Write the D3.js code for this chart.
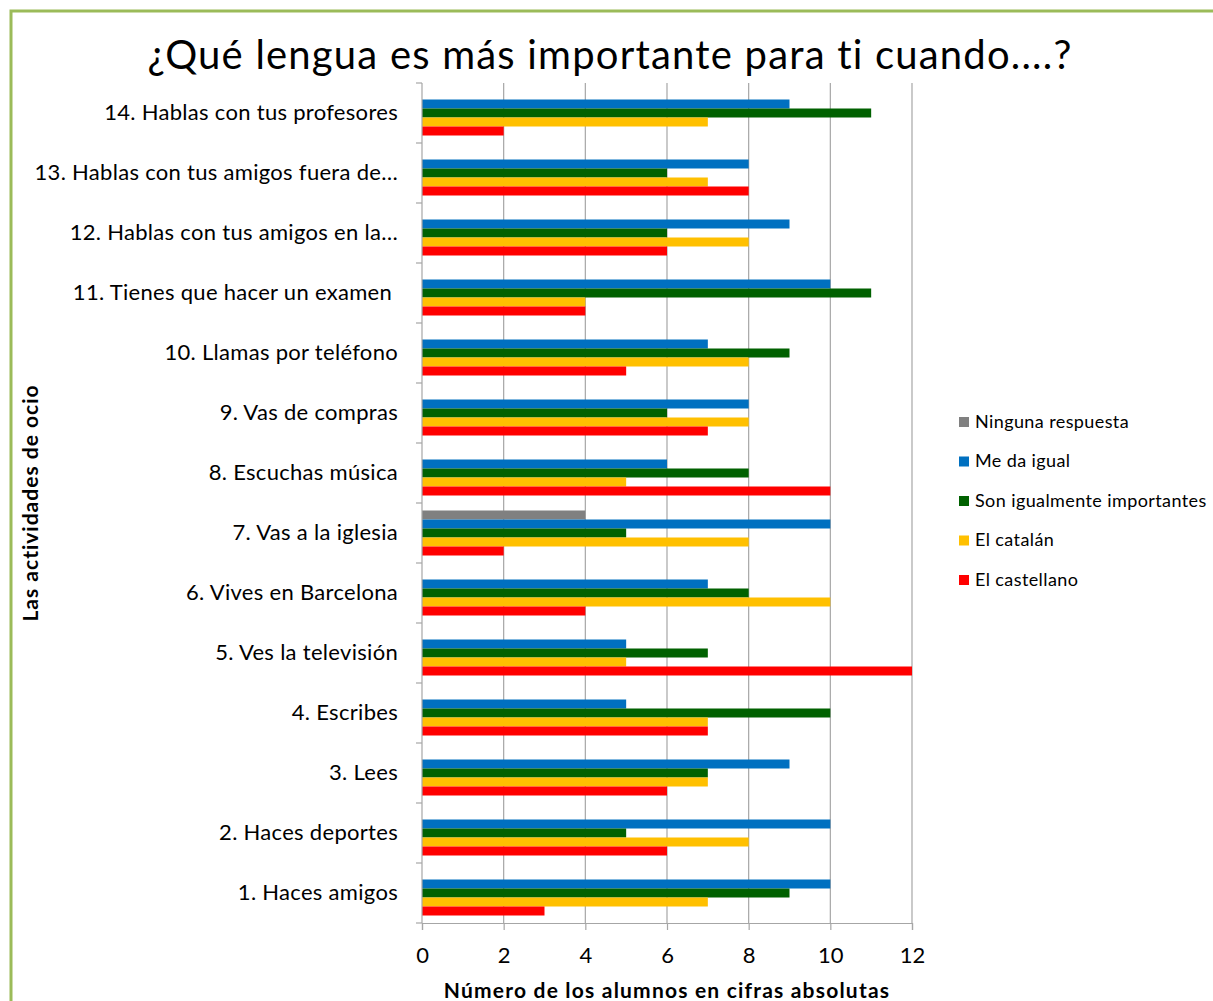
<!DOCTYPE html>
<html>
<head>
<meta charset="utf-8">
<script src="https://cdn.jsdelivr.net/npm/d3@7"></script>
<style>
  body { margin: 0; background: #fff; }
  svg text { font-family: Lato, "Open Sans", sans-serif; fill: #000; }
</style>
</head>
<body>
<div id="chart"></div>
<script>
"use strict";

// categories, top to bottom
var categories = [
  "14. Hablas con tus profesores",
  "13. Hablas con tus amigos fuera de\u2026",
  "12. Hablas con tus amigos en la\u2026",
  "11. Tienes que hacer un examen\u00a0",
  "10. Llamas por teléfono",
  "9. Vas de compras",
  "8. Escuchas música",
  "7. Vas a la iglesia",
  "6. Vives en Barcelona",
  "5. Ves la televisión",
  "4. Escribes",
  "3. Lees",
  "2. Haces deportes",
  "1. Haces amigos"
];

var seriesNames = ["Ninguna respuesta", "Me da igual", "Son igualmente importantes", "El catalán", "El castellano"];
var seriesColors = ["#808080", "#0070C0", "#006100", "#FFC000", "#FF0000"];

// values in the same order as categories
var ninguna    = [0, 0, 0, 0, 0, 0, 0, 4, 0, 0, 0, 0, 0, 0];
var meDaIgual  = [9, 8, 9, 10, 7, 8, 6, 10, 7, 5, 5, 9, 10, 10];
var igualmente = [11, 6, 6, 11, 9, 6, 8, 5, 8, 7, 10, 7, 5, 9];
var catalan    = [7, 7, 8, 4, 8, 8, 5, 8, 10, 5, 7, 7, 8, 7];
var castellano = [2, 8, 6, 4, 5, 7, 10, 2, 4, 12, 7, 6, 6, 3];

var xTicks = [0, 2, 4, 6, 8, 10, 12];

var series = [ninguna, meDaIgual, igualmente, catalan, castellano];

var width = 1213, height = 1001;
var plotLeft = 422, plotRight = 912, plotTop = 83, plotBottom = 923;

var svg = d3.select("#chart").append("svg")
    .attr("width", width)
    .attr("height", height);

// green frame
svg.append("rect")
    .attr("x", 11).attr("y", 11)
    .attr("width", 1220).attr("height", 1020)
    .attr("fill", "none")
    .attr("stroke", "#9BBB59")
    .attr("stroke-width", 3);

var x = d3.scaleLinear().domain([0, 12]).range([plotLeft, plotRight]);
var y0 = d3.scaleBand().domain(categories).range([plotTop, plotBottom]).padding(0);
var y1 = d3.scaleBand().domain(d3.range(seriesNames.length))
    .range([7.5, y0.bandwidth() - 7.5]).padding(0);

// gridlines
svg.append("g")
  .selectAll("line")
  .data(xTicks.slice(1))
  .enter().append("line")
    .attr("x1", function(d) { return x(d); })
    .attr("x2", function(d) { return x(d); })
    .attr("y1", plotTop)
    .attr("y2", plotBottom)
    .attr("stroke", "#a6a6a6")
    .attr("stroke-width", 1.2);

// bars
var groups = svg.append("g")
  .selectAll("g")
  .data(categories)
  .enter().append("g")
    .attr("transform", function(d) { return "translate(0," + y0(d) + ")"; });

groups.selectAll("rect")
  .data(function(d, i) {
    return series.map(function(s, k) { return {k: k, v: s[i]}; });
  })
  .enter().append("rect")
    .attr("x", x(0))
    .attr("y", function(d) { return y1(d.k); })
    .attr("width", function(d) { return x(d.v) - x(0); })
    .attr("height", y1.bandwidth())
    .attr("fill", function(d) { return seriesColors[d.k]; });

// x axis
var xAxis = svg.append("g")
    .attr("transform", "translate(0," + plotBottom + ")")
    .call(d3.axisBottom(x).tickValues(xTicks).tickSize(7).tickPadding(17));
xAxis.select(".domain").attr("stroke", "#a6a6a6").attr("stroke-width", 1.2);
xAxis.selectAll(".tick line").attr("stroke", "#a6a6a6").attr("stroke-width", 1.2);
xAxis.selectAll(".tick text")
    .style("font-size", "22px")
    .attr("fill", "#000");

// y axis: line + ticks at band boundaries
svg.append("line")
    .attr("x1", plotLeft).attr("x2", plotLeft)
    .attr("y1", plotTop).attr("y2", plotBottom)
    .attr("stroke", "#a6a6a6").attr("stroke-width", 1.2);

svg.append("g")
  .selectAll("line")
  .data(categories.concat(["end"]))
  .enter().append("line")
    .attr("x1", plotLeft - 6).attr("x2", plotLeft)
    .attr("y1", function(d, i) { return plotTop + i * y0.bandwidth(); })
    .attr("y2", function(d, i) { return plotTop + i * y0.bandwidth(); })
    .attr("stroke", "#a6a6a6").attr("stroke-width", 1.2);

svg.append("g")
  .selectAll("text")
  .data(categories)
  .enter().append("text")
    .attr("x", 398)
    .attr("y", function(d) { return y0(d) + y0.bandwidth() / 2 + 1; })
    .attr("text-anchor", "end")
    .attr("dominant-baseline", "middle")
    .style("font-size", "22px")
    .style("letter-spacing", "0.3px")
    .style("white-space", "pre")
    .text(function(d) { return d; });

// titles
svg.append("text")
    .attr("x", 610).attr("y", 69)
    .attr("text-anchor", "middle")
    .style("font-size", "40px")
    .style("letter-spacing", "1.2px")
    .text("¿Qué lengua es más importante para ti cuando....?");

svg.append("text")
    .attr("x", 667).attr("y", 998)
    .attr("text-anchor", "middle")
    .style("font-size", "21px")
    .style("letter-spacing", "1.2px")
    .style("font-weight", "bold")
    .text("Número de los alumnos en cifras absolutas");

svg.append("text")
    .attr("transform", "translate(38,503) rotate(-90)")
    .attr("text-anchor", "middle")
    .style("font-size", "21px")
    .style("letter-spacing", "1px")
    .style("font-weight", "bold")
    .text("Las actividades de ocio");

// legend
var legend = svg.append("g")
  .selectAll("g")
  .data(seriesNames)
  .enter().append("g")
    .attr("transform", function(d, i) { return "translate(959," + (422 + i * 39.5) + ")"; });

legend.append("rect")
    .attr("x", 0).attr("y", -5)
    .attr("width", 10).attr("height", 10)
    .attr("fill", function(d, i) { return seriesColors[i]; });

legend.append("text")
    .attr("x", 16).attr("y", 1)
    .attr("dominant-baseline", "middle")
    .style("font-size", "18px")
    .style("letter-spacing", "0.4px")
    .text(function(d) { return d; });
</script>
</body>
</html>
